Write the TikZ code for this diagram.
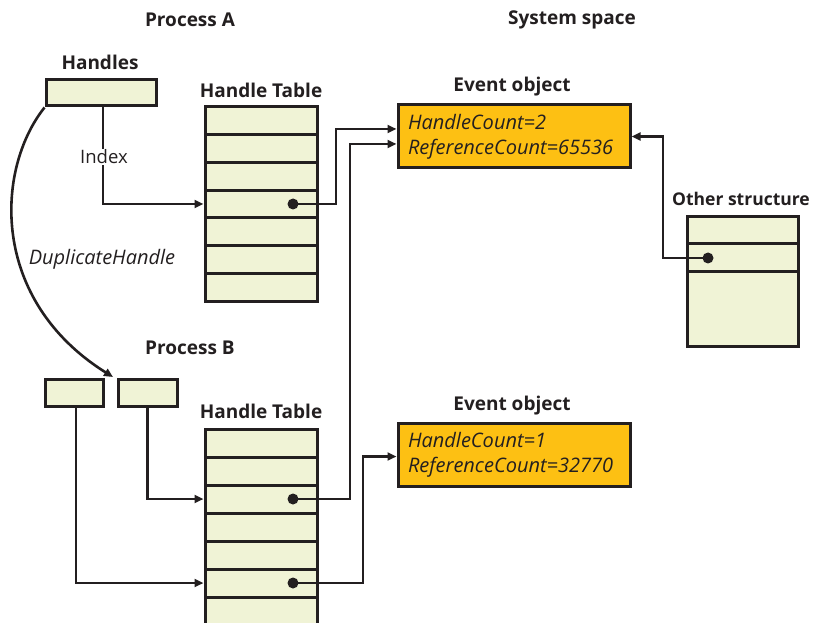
\documentclass[tikz,border=0pt]{standalone}
\usepackage{fontspec}
\setmainfont{Open Sans}
\usetikzlibrary{arrows.meta}
\definecolor{cell}{RGB}{240,243,214}
\definecolor{evt}{RGB}{253,192,19}
\definecolor{ink}{RGB}{35,31,32}
\begin{document}
\begin{tikzpicture}[x=1pt,y=-1pt,
 box/.style={draw=ink, line width=3pt, fill=cell, inner sep=0pt},
 evbox/.style={draw=ink, line width=3pt, fill=evt, minimum width=232pt, minimum height=63pt, text width=212pt, align=left, inner sep=0pt, text=ink, font=\fontsize{20}{25}\selectfont\itshape},
 title/.style={font=\fontsize{19}{22}\selectfont\bfseries, text=ink},
 plain/.style={font=\fontsize{18.5}{22}\selectfont, text=ink},
 conn/.style={draw=ink, line width=2.6pt, -{Triangle[length=9pt,width=8pt]}},
 dotm/.style={circle, fill=ink, inner sep=0pt, minimum size=11pt},
 rowline/.style={draw=ink, line width=3pt}]
\clip (0,0) rectangle (815,623);
\fill[white] (0,0) rectangle (815,623);

% titles
\node[title] (tPA) at (190,20) {Process A};
\node[title] (tSS) at (572,20) {System space};
\node[title] (tH) at (100,62) {Handles};
\node[title] (tHTA) at (261,90) {Handle Table};
\node[title] (tEA) at (512,87) {Event object};
\node[title, font=\fontsize{17.5}{22}\selectfont\bfseries] (tOS) at (741,199) {Other structure};
\node[title] (tPB) at (190,348) {Process B};
\node[title] (tHTB) at (261,411) {Handle Table};
\node[title] (tEB) at (512,406) {Event object};

% process A
\node[box, minimum width=110pt, minimum height=26pt] (hA) at (101,93) {};
\node[box, minimum width=112pt, minimum height=194pt] (tA) at (261,204) {};
\foreach \k in {1,...,6} \draw[rowline] (205,{107+27.71*\k}) -- (317,{107+27.71*\k});
\node[dotm] (dA) at (293,204) {};

% event objects
\node[evbox] (eA) at (514,136.5) {HandleCount=2\\ReferenceCount=65536};
\node[evbox] (eB) at (514,454.5) {HandleCount=1\\ReferenceCount=32770};

% other structure
\node[box, minimum width=111pt, minimum height=129pt] (os) at (742.5,281.5) {};
\draw[rowline] (687,244) -- (798,244);
\draw[rowline] (687,272) -- (798,272);
\node[dotm] (dO) at (708,258) {};

% process B
\node[box, minimum width=58pt, minimum height=27pt] (hB1) at (74,392.5) {};
\node[box, minimum width=59pt, minimum height=27pt] (hB2) at (147.5,392.5) {};
\node[box, minimum width=112pt, minimum height=196pt] (tB) at (261,527) {};
\foreach \k in {1,...,6} \draw[rowline] (205,{429+28*\k}) -- (317,{429+28*\k});
\node[dotm] (dB1) at (293,499) {};
\node[dotm] (dB2) at (293,583) {};

% connectors
\draw[conn] ([xshift=2pt]hA.south) |- (tA.west |- dA);
\node[plain, fill=white, inner sep=1pt] (idx) at (104,157) {Index};
\draw[conn] (dA.center) -- (336,204) |- ([yshift=7.5pt]eA.west);
\draw[conn] (dO.center) -- (663,258) |- (eA.east);
\draw[conn] ([xshift=2pt]hB1.south) |- (tB.west |- dB2);
\draw[conn] (hB2.south) |- (tB.west |- dB1);
\draw[conn] (dB1.center) -- (350,499) |- ([yshift=-7.5pt]eA.west);
\draw[conn] (dB2.center) -- (363,583) |- ([yshift=-2pt]eB.west);

% duplicate handle
\coordinate (dupEnd) at (113,377);
\draw[conn] (hA.south west) .. controls (-5,170) and (-10,300) .. (dupEnd);
\node[plain, font=\fontsize{20}{22}\selectfont\itshape] (dupL) at (102,259) {DuplicateHandle};
\end{tikzpicture}
\end{document}
